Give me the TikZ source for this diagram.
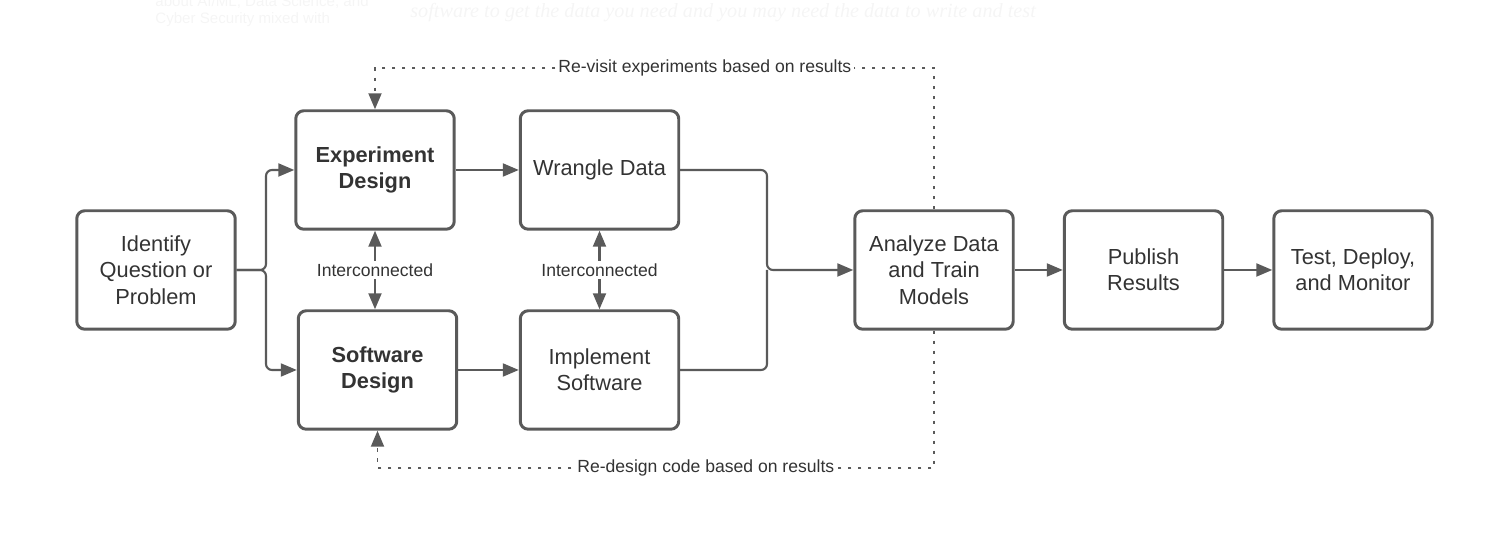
\documentclass[tikz,border=0pt]{standalone}
\usepackage{fontspec}
\setmainfont{Liberation Sans}
\newfontfamily\seriffont{Liberation Serif}
\usetikzlibrary{arrows.meta}

\definecolor{linegray}{HTML}{5A5A5A}
\definecolor{textgray}{HTML}{333333}
\definecolor{ghost}{HTML}{F5F5F5}

\tikzset{
  stage/.style={draw=linegray, line width=1.7pt, rounded corners=0.16cm,
    minimum width=3.17cm, minimum height=2.37cm, align=center,
    text=textgray, font=\fontsize{12.4}{15}\selectfont},
  stagebold/.style={stage, font=\fontsize{12.4}{15}\selectfont\bfseries},
  flow/.style={draw=linegray, line width=1.2pt,
    >={Triangle[length=0.32cm,width=0.26cm]}},
  feedback/.style={draw=linegray, line width=1.1pt,
    dash pattern=on 0.07cm off 0.13cm,
    >={Triangle[length=0.32cm,width=0.26cm]}},
  midtext/.style={fill=white, text=textgray, inner sep=1.5pt,
    font=\fontsize{10}{12}\selectfont},
  ghosttext/.style={text=ghost, inner sep=0pt, anchor=west}
}

\begin{document}
\begin{tikzpicture}[x=0.02cm, y=0.02cm]
\useasboundingbox (0,0) rectangle (1504,536);

% faint text behind the screenshot
\node[ghosttext, font=\fontsize{8.6}{10}\selectfont] (g1) at (155,534) {about AI/ML, Data Science, and};
\node[ghosttext, font=\fontsize{8.6}{10}\selectfont] (g2) at (155,516) {Cyber Security mixed with};
\node[ghosttext, font=\seriffont\itshape\fontsize{11.5}{13}\selectfont] (g3) at (410,523)
  {software to get the data you need and you may need the data to write and test};

% stages
\node[stage] (id) at (156,266) {Identify\\Question or\\Problem};
\node[stagebold] (ed) at (375,366) {Experiment\\Design};
\node[stagebold] (sd) at (377.5,166) {Software\\Design};
\node[stage] (wd) at (599.5,366) {Wrangle Data};
\node[stage] (is) at (599.5,166) {Implement\\Software};
\node[stage] (ad) at (934,266) {Analyze Data\\and Train\\Models};
\node[stage] (pr) at (1143.5,266) {Publish\\Results};
\node[stage] (tdm) at (1353,266) {Test, Deploy,\\and Monitor};

\coordinate (split) at (266,266);
\coordinate (join) at (767,266);

\draw[flow, ->, rounded corners=0.12cm] (id.east) -- (split) |- (ed.west);
\draw[flow, ->, rounded corners=0.12cm] (id.east) -- (split) |- (sd.west);
\draw[flow, ->] (ed.east) -- (wd.west);
\draw[flow, ->] (sd.east) -- (is.west);
\draw[flow, rounded corners=0.12cm] (is.east) -| (join);
\draw[flow, ->, rounded corners=0.12cm] (wd.east) -| (join) -- (ad.west);
\draw[flow, ->] (ad.east) -- (pr.west);
\draw[flow, ->] (pr.east) -- (tdm.west);

\draw[flow, <->] (ed.south) -- (ed.south |- sd.north)
  node[midtext, midway] (ic1) {Interconnected};
\draw[flow, <->] (wd.south) -- (is.north)
  node[midtext, midway] (ic2) {Interconnected};

% feedback loops
\coordinate (rvr) at (934,468);
\coordinate (rvl) at (375,468);
\coordinate (rdr) at (934,68);
\coordinate (rdl) at (377.5,68);
\draw[feedback, ->] (ad.north) -- (rvr)
  -- node[midtext, pos=0.41] (rv) {Re-visit experiments based on results} (rvl) -- (ed.north);
\draw[feedback, ->] (ad.south) -- (rdr)
  -- node[midtext, pos=0.41] (rd) {Re-design code based on results} (rdl) -- (sd.south);
\end{tikzpicture}
\end{document}
